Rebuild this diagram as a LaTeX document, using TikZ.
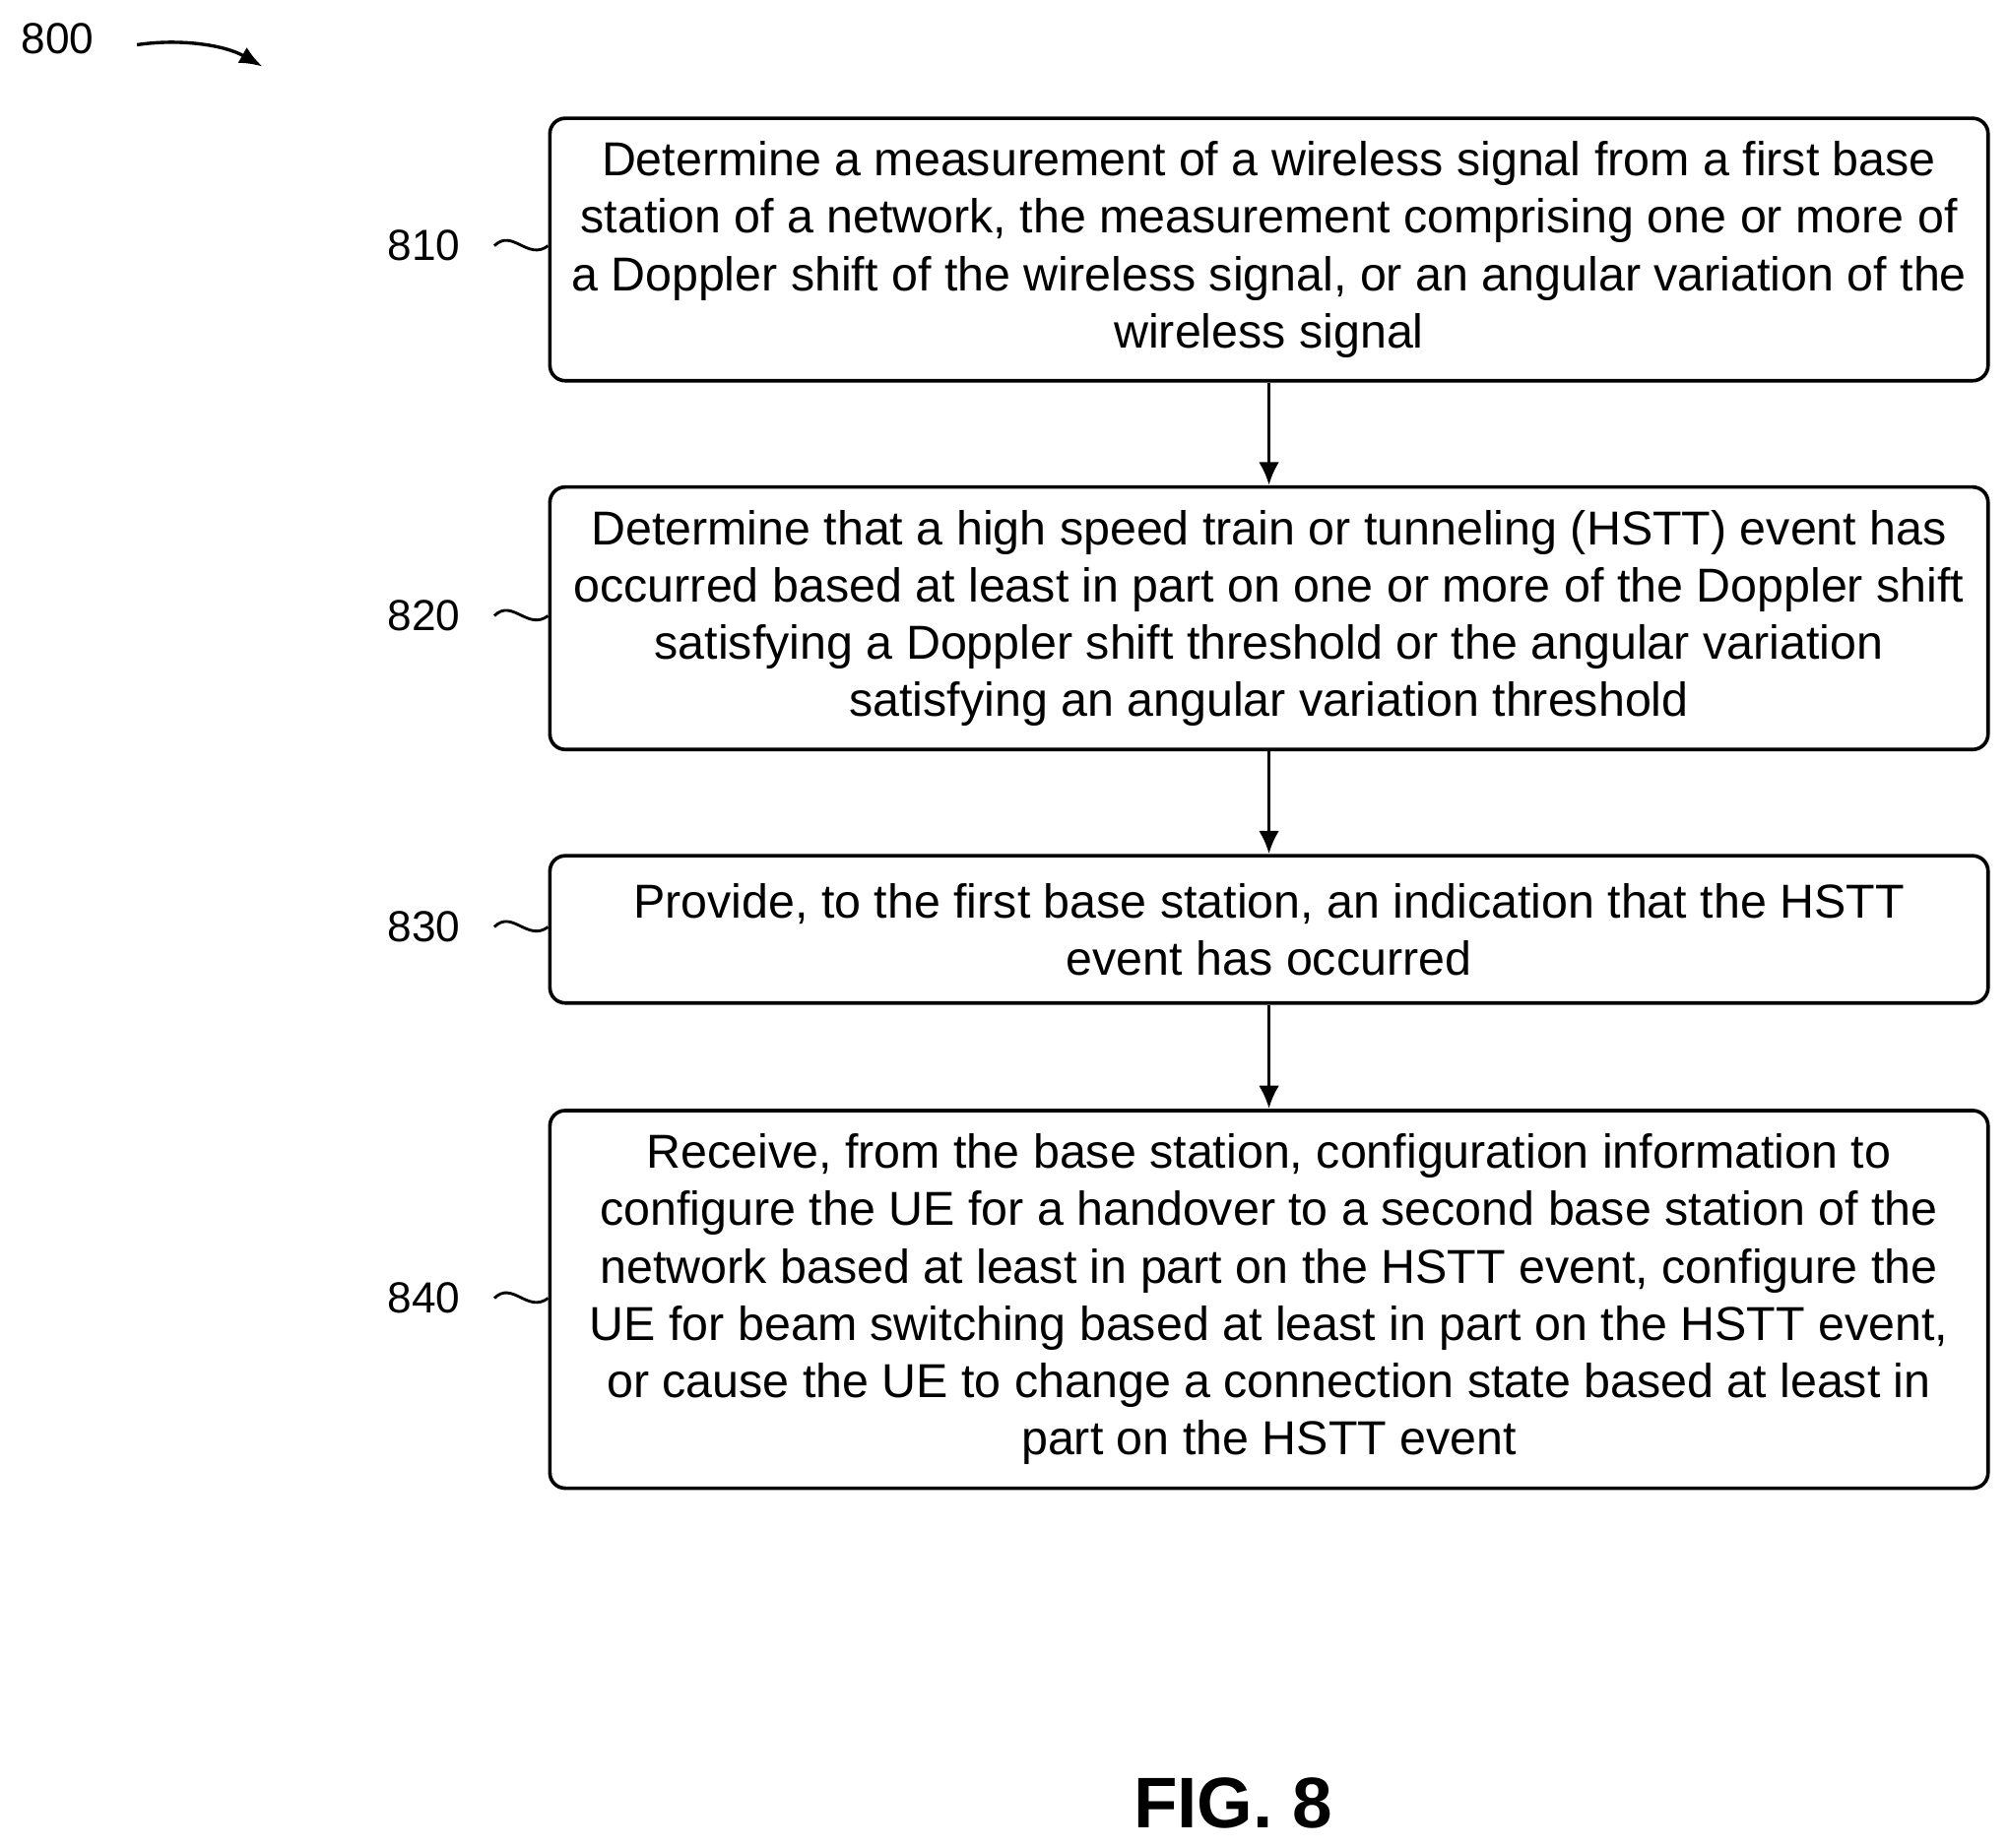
\documentclass[tikz,border=0pt]{standalone}
\usepackage{fontspec}
\setmainfont{Liberation Sans}
\usetikzlibrary{arrows.meta}
\begin{document}
\begin{tikzpicture}[x=0.5pt,y=-0.5pt,
  box/.style={draw,line width=1.4pt,rounded corners=6pt,align=center,font=\fontsize{18.6}{22.4}\selectfont,inner sep=0pt,minimum width=561.5pt,anchor=north west},
  lab/.style={font=\fontsize{17}{20}\selectfont},
  arr/.style={-{Latex[length=9pt,width=8pt]},line width=1.4pt},
  sq/.style={line width=1.1pt}]
\useasboundingbox (0,0) rectangle (1568,1443);
\node[box,minimum height=102.5pt] (b810) at (428,91) {Determine a measurement of a wireless signal from a first base\\station of a network, the measurement comprising one or more of\\a Doppler shift of the wireless signal, or an angular variation of the\\wireless signal};
\node[box,minimum height=102.5pt] (b820) at (428,379) {Determine that a high speed train or tunneling (HSTT) event has\\occurred based at least in part on one or more of the Doppler shift\\satisfying a Doppler shift threshold or the angular variation\\satisfying an angular variation threshold};
\node[box,minimum height=57.5pt] (b830) at (428,667) {Provide, to the first base station, an indication that the HSTT\\event has occurred};
\node[box,minimum height=147.5pt] (b840) at (428,866) {Receive, from the base station, configuration information to\\configure the UE for a handover to a second base station of the\\network based at least in part on the HSTT event, configure the\\UE for beam switching based at least in part on the HSTT event,\\or cause the UE to change a connection state based at least in\\part on the HSTT event};
\draw[arr] (b810) -- (b820);
\draw[arr] (b820) -- (b830);
\draw[arr] (b830) -- (b840);
\foreach \n/\y in {810/192,820/481,830/724,840/1014}{
  \node[lab] (l\n) at (331,\y) {\n};
  \draw[sq] (386,\y) .. controls (400,\y-14) and (412,\y+12) .. (428,\y);
}
\node[lab] (l800) at (45,30) {800};
\coordinate (a1) at (107,35);
\coordinate (a2) at (205,52);
\draw[-{Latex[length=9pt,width=7pt]},line width=1.3pt] (a1) .. controls (140,30) and (175,35) .. (a2);
\node[font=\bfseries\fontsize{28}{32}\selectfont] (fig) at (963,1408) {FIG. 8};
\end{tikzpicture}
\end{document}
